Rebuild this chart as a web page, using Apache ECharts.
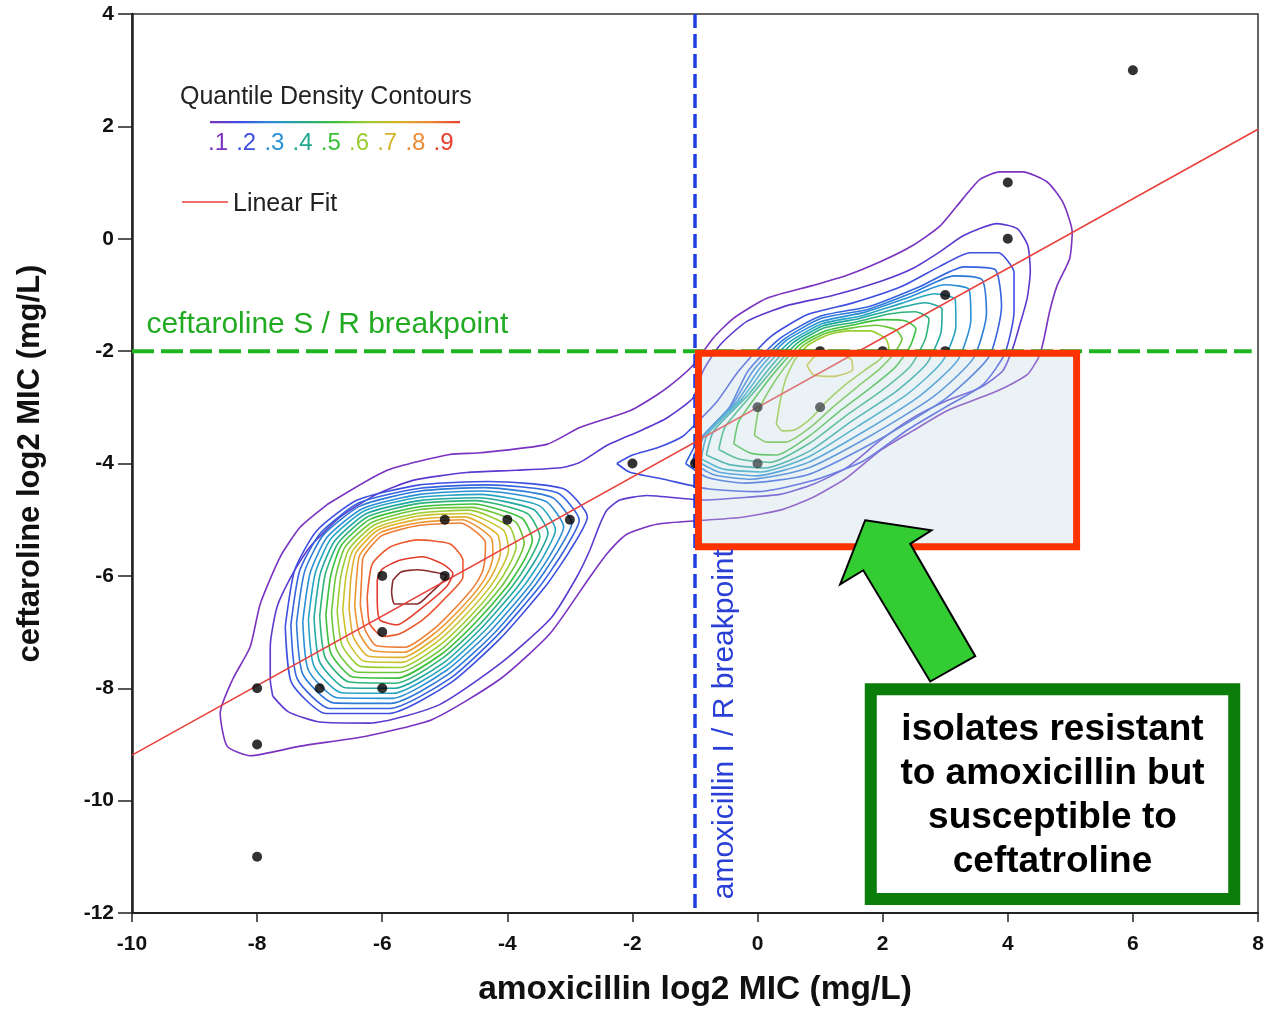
<!DOCTYPE html>
<html><head><meta charset="utf-8">
<script src="https://cdn.jsdelivr.net/npm/echarts@6/dist/echarts.min.js"></script>
<style>html,body{margin:0;padding:0;background:#fff}#c{width:1268px;height:1012px}</style>
</head><body><div id="c"></div>
<script>
// ---------- axes ----------
const xMin = -10, xMax = 8, xStep = 2;
const yMin = -12, yMax = 4, yStep = 2;
const xTitle = 'amoxicillin log2 MIC (mg/L)';
const yTitle = 'ceftaroline log2 MIC (mg/L)';

// ---------- isolates (black dots) ----------
const isolateX = [-8,-8,-8,-7,-6,-6,-6,-5,-5,-4,-3,-2,-1,0,0,1,1,2,3,3,4,4,6];
const isolateY = [-8,-9,-11,-8,-6,-7,-8,-5,-6,-5,-5,-4,-4,-3,-4,-3,-2,-2,-2,-1,0,1,3];

// ---------- linear fit ----------
const fitX = [-10, 8];
const fitY = [-9.19, 1.95];

// ---------- breakpoints ----------
const ceftBreakpoint = -2;
const amoxBreakpoint = -1;
const ceftLabel = 'ceftaroline S / R breakpoint';
const amoxLabel = 'amoxicillin I / R breakpoint';
const ceftLabelPos = [-9.77, -1.53];
const amoxLabelPos = [-0.53, -8.64];

// ---------- contour level colours (.05 ... .95) ----------
const levelColors = ['#7a32c0','#5c3ad0','#3e4fe0','#3563e0','#2e7ad8','#2b8fd6','#27a4c4','#22a8a0','#2eb47a','#3cc03c',
                     '#6cc63a','#9acd32','#c8c52e','#e0b02e','#ee9632','#ee7c34','#ec5a30','#e23c2c','#8a2c2c'];
const legendLabels = ['.1','.2','.3','.4','.5','.6','.7','.8','.9'];
const legendColors = ['#7a32c0','#3e4fe0','#2b8fd6','#22a88c','#3cc03c','#9acd32','#d4b42c','#ee8a34','#e8402c'];

// ---------- contours (data coordinates) ----------
const outerContour1 = [[-6.88,-4.73],[-5.92,-4.12],[-4.92,-3.84],[-4.44,-3.81],[-3.37,-3.66],[-2.84,-3.36],[-2.04,-3.06],[-1.61,-2.78],[-1.35,-2.57],[-1.03,-2.25],[-0.71,-1.77],[-0.39,-1.42],[0.15,-1.06],[0.89,-0.83],[1.43,-0.65],[1.96,-0.41],[2.48,-0.12],[2.92,0.23],[3.28,0.71],[3.56,1.06],[3.87,1.19],[4.24,1.19],[4.63,1.01],[4.88,0.65],[5.03,0.12],[4.99,-0.35],[4.79,-0.83],[4.67,-1.29],[4.59,-1.72],[4.51,-2.07],[4.31,-2.42],[3.83,-2.71],[3.03,-3.06],[2.48,-3.42],[1.96,-3.77],[1.43,-4.25],[0.89,-4.60],[0.36,-4.83],[-0.28,-4.96],[-0.87,-5.01],[-1.61,-5.08],[-2.09,-5.26],[-2.41,-5.61],[-2.68,-6.02],[-3.32,-7.03],[-4.12,-7.84],[-5.19,-8.55],[-6.24,-8.85],[-7.31,-9.03],[-8.11,-9.20],[-8.48,-9.03],[-8.59,-8.44],[-8.39,-7.84],[-8.11,-7.26],[-7.95,-6.50],[-7.63,-5.66],[-7.31,-5.13]];
const outerContour2 = [[-7.75,-8.14],[-7.79,-7.84],[-7.79,-7.26],[-7.68,-6.55],[-7.43,-5.96],[-7.16,-5.49],[-6.68,-4.96],[-6.09,-4.55],[-5.51,-4.30],[-4.65,-4.16],[-3.85,-4.12],[-3.11,-4.07],[-2.84,-3.98],[-2.41,-3.68],[-1.88,-3.42],[-1.45,-3.19],[-1.03,-2.83],[-0.87,-2.35],[-0.60,-1.89],[-0.17,-1.47],[0.47,-1.19],[1.20,-1.01],[1.96,-0.76],[2.48,-0.53],[2.92,-0.23],[3.28,0.05],[3.83,0.27],[4.15,0.18],[4.32,-0.12],[4.36,-0.58],[4.31,-1.06],[4.19,-1.54],[4.08,-1.95],[3.92,-2.35],[3.56,-2.65],[3.03,-2.88],[2.48,-3.19],[1.96,-3.59],[1.43,-4.07],[0.89,-4.37],[0.36,-4.55],[-0.17,-4.60],[-0.87,-4.65],[-1.77,-4.57],[-2.20,-4.65],[-2.41,-4.83],[-2.52,-5.08],[-2.68,-5.54],[-2.89,-6.02],[-3.3,-6.75],[-4.1,-7.55],[-5.1,-8.3],[-6.2,-8.62],[-7.0,-8.6],[-7.5,-8.42]];

const leftRingLevels = [3,4,5,6,7,8,9,10,11,12,13,14,15,16,17,18,19];
const leftRings = [
 [[-7.55,-6.9],[-7.4,-5.9],[-7.05,-5.2],[-6.4,-4.65],[-5.4,-4.38],[-4.3,-4.32],[-3.1,-4.45],[-2.72,-4.95],[-3.0,-5.55],[-3.4,-6.2],[-4.1,-7.1],[-4.9,-7.9],[-5.9,-8.45],[-6.9,-8.45],[-7.45,-7.9]],
 [[-7.46,-6.87],[-7.32,-5.91],[-6.99,-5.24],[-6.37,-4.70],[-5.4,-4.44],[-4.33,-4.38],[-3.20,-4.52],[-2.85,-5.01],[-3.11,-5.58],[-3.49,-6.2],[-4.16,-7.06],[-4.92,-7.83],[-5.88,-8.36],[-6.84,-8.36],[-7.36,-7.83]],
 [[-7.37,-6.84],[-7.24,-5.92],[-6.94,-5.27],[-6.34,-4.75],[-5.4,-4.49],[-4.37,-4.43],[-3.29,-4.60],[-2.97,-5.07],[-3.22,-5.61],[-3.58,-6.2],[-4.21,-7.02],[-4.94,-7.75],[-5.86,-8.27],[-6.78,-8.26],[-7.27,-7.75]],
 [[-7.27,-6.81],[-7.15,-5.94],[-6.88,-5.31],[-6.31,-4.80],[-5.4,-4.55],[-4.40,-4.49],[-3.39,-4.67],[-3.10,-5.13],[-3.32,-5.64],[-3.66,-6.2],[-4.27,-6.98],[-4.97,-7.68],[-5.84,-8.18],[-6.72,-8.17],[-7.18,-7.68]],
 [[-7.18,-6.78],[-7.07,-5.95],[-6.82,-5.34],[-6.28,-4.84],[-5.4,-4.60],[-4.44,-4.55],[-3.49,-4.75],[-3.23,-5.18],[-3.43,-5.67],[-3.75,-6.2],[-4.33,-6.94],[-4.99,-7.61],[-5.82,-8.09],[-6.65,-8.08],[-7.09,-7.61]],
 [[-7.09,-6.75],[-6.99,-5.96],[-6.76,-5.38],[-6.25,-4.89],[-5.4,-4.66],[-4.47,-4.61],[-3.58,-4.82],[-3.35,-5.24],[-3.54,-5.70],[-3.84,-6.2],[-4.39,-6.90],[-5.01,-7.54],[-5.80,-8.00],[-6.59,-7.99],[-7.00,-7.53]],
 [[-7.00,-6.72],[-6.91,-5.97],[-6.70,-5.41],[-6.22,-4.94],[-5.4,-4.71],[-4.51,-4.66],[-3.68,-4.89],[-3.48,-5.30],[-3.65,-5.73],[-3.93,-6.2],[-4.44,-6.86],[-5.03,-7.46],[-5.78,-7.91],[-6.53,-7.89],[-6.91,-7.46]],
 [[-6.90,-6.69],[-6.82,-5.98],[-6.65,-5.45],[-6.19,-4.99],[-5.4,-4.77],[-4.54,-4.72],[-3.77,-4.97],[-3.60,-5.36],[-3.75,-5.76],[-4.01,-6.2],[-4.50,-6.82],[-5.05,-7.39],[-5.76,-7.82],[-6.47,-7.80],[-6.82,-7.38]],
 [[-6.81,-6.66],[-6.74,-5.99],[-6.59,-5.48],[-6.15,-5.04],[-5.4,-4.82],[-4.58,-4.78],[-3.87,-5.04],[-3.73,-5.42],[-3.86,-5.78],[-4.10,-6.2],[-4.56,-6.78],[-5.07,-7.32],[-5.73,-7.72],[-6.41,-7.71],[-6.73,-7.31]],
 [[-6.72,-6.63],[-6.66,-6.00],[-6.53,-5.52],[-6.12,-5.09],[-5.4,-4.88],[-4.61,-4.83],[-3.97,-5.12],[-3.86,-5.48],[-3.97,-5.81],[-4.19,-6.2],[-4.61,-6.74],[-5.09,-7.24],[-5.71,-7.63],[-6.35,-7.61],[-6.64,-7.24]],
 [[-6.63,-6.60],[-6.58,-6.02],[-6.47,-5.55],[-6.09,-5.14],[-5.4,-4.93],[-4.65,-4.89],[-4.06,-5.19],[-3.98,-5.54],[-4.08,-5.84],[-4.28,-6.2],[-4.67,-6.70],[-5.12,-7.17],[-5.69,-7.54],[-6.29,-7.52],[-6.55,-7.16]],
 [[-6.53,-6.57],[-6.50,-6.03],[-6.42,-5.59],[-6.06,-5.18],[-5.4,-4.99],[-4.68,-4.95],[-4.16,-5.26],[-4.11,-5.59],[-4.19,-5.87],[-4.37,-6.2],[-4.73,-6.66],[-5.14,-7.10],[-5.67,-7.45],[-6.22,-7.43],[-6.46,-7.09]],
 [[-6.44,-6.54],[-6.41,-6.04],[-6.36,-5.63],[-6.03,-5.23],[-5.4,-5.05],[-4.72,-5.00],[-4.25,-5.34],[-4.23,-5.65],[-4.29,-5.90],[-4.45,-6.2],[-4.78,-6.62],[-5.16,-7.02],[-5.65,-7.36],[-6.16,-7.33],[-6.37,-7.01]],
 [[-6.35,-6.51],[-6.33,-6.05],[-6.3,-5.66],[-6.0,-5.28],[-5.4,-5.10],[-4.75,-5.06],[-4.35,-5.41],[-4.36,-5.71],[-4.4,-5.93],[-4.54,-6.2],[-4.84,-6.58],[-5.18,-6.95],[-5.63,-7.27],[-6.1,-7.24],[-6.28,-6.94]],
 [[-6.24,-6.37],[-6.16,-5.79],[-5.88,-5.49],[-5.44,-5.36],[-4.92,-5.43],[-4.71,-5.72],[-4.71,-6.02],[-4.97,-6.37],[-5.35,-6.78],[-5.72,-7.03],[-5.99,-7.08],[-6.2,-6.85]],
 [[-6.08,-6.07],[-6.0,-5.88],[-5.72,-5.72],[-5.35,-5.66],[-5.03,-5.79],[-4.87,-5.96],[-4.97,-6.19],[-5.40,-6.60],[-5.76,-6.87],[-6.04,-6.78],[-6.08,-6.37]],
 [[-5.83,-6.08],[-5.70,-5.93],[-5.44,-5.89],[-5.19,-5.93],[-4.97,-6.0],[-5.24,-6.32],[-5.44,-6.5],[-5.80,-6.5],[-5.85,-6.28]]
];

const rightRingLevels = [3,4,5,6,7,8,9,10,11,12,13];
const rightRings = [
 [[-2.25,-4.0],[-2.0,-3.85],[-1.6,-3.72],[-1.2,-3.52],[-0.95,-3.25],[-0.65,-2.9],[-0.3,-2.35],[0.2,-1.75],[0.8,-1.35],[1.5,-1.15],[2.3,-0.85],[2.9,-0.5],[3.4,-0.25],[3.85,-0.25],[4.1,-0.6],[4.1,-1.3],[3.95,-2.05],[3.6,-2.6],[3.0,-3.0],[2.4,-3.4],[1.7,-3.95],[0.9,-4.3],[0.0,-4.5],[-0.8,-4.45],[-1.5,-4.28],[-2.05,-4.15]],
 [[-1.15,-4.0],[-0.95,-3.6],[-0.45,-3.0],[-0.15,-2.35],[0.35,-1.78],[1.0,-1.38],[1.8,-1.2],[2.6,-0.85],[3.3,-0.5],[3.8,-0.55],[3.9,-1.2],[3.7,-2.1],[3.0,-2.85],[1.9,-3.6],[0.8,-4.2],[-0.2,-4.35],[-0.8,-4.25]],
 [[-1.05,-3.98],[-0.9,-3.55],[-0.4,-2.95],[-0.06,-2.33],[0.41,-1.80],[1.01,-1.42],[1.76,-1.26],[2.50,-0.95],[3.14,-0.66],[3.59,-0.73],[3.66,-1.32],[3.45,-2.13],[2.80,-2.82],[1.80,-3.51],[0.81,-4.08],[-0.1,-4.28],[-0.7,-4.2]],
 [[-0.98,-3.95],[-0.85,-3.5],[-0.33,-2.9],[0.04,-2.30],[0.46,-1.81],[1.03,-1.47],[1.71,-1.31],[2.40,-1.05],[2.99,-0.82],[3.38,-0.90],[3.41,-1.44],[3.20,-2.16],[2.60,-2.79],[1.70,-3.43],[0.81,-3.98],[-0.02,-4.22],[-0.62,-4.15]],
 [[-0.9,-3.92],[-0.8,-3.48],[-0.25,-2.85],[0.13,-2.28],[0.52,-1.83],[1.04,-1.51],[1.67,-1.37],[2.30,-1.15],[2.83,-0.98],[3.16,-1.08],[3.17,-1.56],[2.95,-2.19],[2.40,-2.76],[1.60,-3.34],[0.82,-3.88],[0.05,-4.15],[-0.55,-4.1]],
 [[-0.82,-3.85],[-0.7,-3.42],[-0.15,-2.78],[0.23,-2.25],[0.58,-1.84],[1.05,-1.55],[1.63,-1.42],[2.20,-1.25],[2.68,-1.14],[2.95,-1.25],[2.93,-1.68],[2.70,-2.23],[2.20,-2.73],[1.50,-3.25],[0.83,-3.78],[0.12,-4.08],[-0.45,-4.02]],
 [[-0.62,-3.75],[-0.52,-3.35],[-0.05,-2.72],[0.32,-2.23],[0.63,-1.86],[1.06,-1.59],[1.58,-1.48],[2.10,-1.34],[2.52,-1.30],[2.74,-1.43],[2.68,-1.79],[2.45,-2.26],[2.00,-2.69],[1.40,-3.16],[0.83,-3.64],[0.2,-3.98],[-0.3,-3.92]],
 [[-0.38,-3.65],[-0.3,-3.25],[0.08,-2.65],[0.41,-2.20],[0.69,-1.87],[1.08,-1.64],[1.54,-1.53],[2.00,-1.44],[2.36,-1.46],[2.53,-1.60],[2.44,-1.91],[2.20,-2.29],[1.80,-2.66],[1.30,-3.08],[0.84,-3.5],[0.3,-3.85],[-0.1,-3.82]],
 [[-0.05,-3.5],[0.02,-3.05],[0.25,-2.58],[0.51,-2.18],[0.74,-1.89],[1.09,-1.68],[1.49,-1.59],[1.90,-1.54],[2.21,-1.62],[2.31,-1.78],[2.19,-2.03],[1.95,-2.32],[1.60,-2.63],[1.20,-3.0],[0.84,-3.36],[0.45,-3.62],[0.15,-3.62]],
 [[0.3,-3.3],[0.36,-2.9],[0.45,-2.5],[0.6,-2.15],[0.8,-1.9],[1.1,-1.72],[1.45,-1.64],[1.8,-1.64],[2.05,-1.78],[2.1,-1.95],[1.95,-2.15],[1.7,-2.35],[1.4,-2.6],[1.1,-2.9],[0.85,-3.2],[0.6,-3.4],[0.4,-3.42]],
 [[0.79,-2.25],[0.95,-2.06],[1.2,-2.02],[1.5,-2.15],[1.52,-2.33],[1.2,-2.45],[0.89,-2.42]]
];

// ---------- annotations (data coordinates) ----------
const highlightBox = [-0.945, -2.04, 5.10, -5.48];
const arrowX = [1.72, 2.78, 2.44, 3.48, 2.76, 1.69, 1.32];
const arrowY = [-5.01, -5.19, -5.43, -7.43, -7.88, -5.90, -6.15];
const noteBox = [1.81, -8.02, 7.62, -11.75];
const noteLines = ['isolates resistant', 'to amoxicillin but', 'susceptible to', 'ceftatroline'];

const FONT = '"Liberation Sans", Arial, Helvetica, sans-serif';

// ---------- build series ----------
const series = [];
function addContour(path, level) {
  series.push({
    type: 'line', data: path.concat([path[0]]), symbol: 'none', showSymbol: false,
    smooth: 0.2, silent: true, z: 2, animation: false,
    lineStyle: { width: 1.6, color: levelColors[level - 1] }
  });
}
addContour(outerContour1, 1);
addContour(outerContour2, 2);
leftRings.forEach((r, i) => addContour(r, leftRingLevels[i]));
rightRings.forEach((r, i) => addContour(r, rightRingLevels[i]));

// breakpoint dashed lines
series.push({ type: 'line', data: [[xMin, ceftBreakpoint], [7.9, ceftBreakpoint]], symbol: 'none', silent: true, z: 3,
  lineStyle: { color: '#1fb41f', width: 4, type: [22, 7] } });
series.push({ type: 'line', data: [[amoxBreakpoint, yMax], [amoxBreakpoint, yMin]], symbol: 'none', silent: true, z: 3,
  lineStyle: { color: '#1f3ee0', width: 3.5, type: [14, 6] } });

// linear fit
series.push({ type: 'line', data: fitX.map((x, i) => [x, fitY[i]]), symbol: 'none', silent: true, z: 3,
  lineStyle: { color: '#e8413c', width: 1.6 } });

// isolates
series.push({ type: 'scatter', data: isolateX.map((x, i) => [x, isolateY[i]]), symbolSize: 10, z: 4,
  itemStyle: { color: '#000' }, silent: true });

function rectFrom(api, b) {
  const a = api.coord([b[0], b[1]]), c = api.coord([b[2], b[3]]);
  return { x: Math.min(a[0], c[0]), y: Math.min(a[1], c[1]), width: Math.abs(c[0] - a[0]), height: Math.abs(c[1] - a[1]) };
}
// highlight box overlay (semi-transparent) + border
series.push({ type: 'custom', data: [highlightBox], z: 5, silent: true, encode: { x: [0, 2], y: [1, 3] },
  renderItem: (p, api) => ({ type: 'rect', shape: rectFrom(api, highlightBox),
    style: { fill: 'rgba(195,218,225,0.34)', stroke: null } }) });
series.push({ type: 'custom', data: [highlightBox], z: 6, silent: true, encode: { x: [0, 2], y: [1, 3] },
  renderItem: (p, api) => ({ type: 'rect', shape: rectFrom(api, highlightBox),
    style: { fill: 'none', stroke: '#ff3300', lineWidth: 7 } }) });

// arrow
series.push({ type: 'custom', data: [[arrowX[0], arrowY[0]]], z: 7, silent: true,
  renderItem: (p, api) => ({ type: 'polygon',
    shape: { points: arrowX.map((x, i) => api.coord([x, arrowY[i]])) },
    style: { fill: '#33cc33', stroke: '#000', lineWidth: 2, lineJoin: 'miter' } }) });

// note box with text
series.push({ type: 'custom', data: [noteBox], z: 8, silent: true, encode: { x: [0, 2], y: [1, 3] },
  renderItem: (p, api) => {
    const r = rectFrom(api, noteBox);
    return { type: 'group', children: [
      { type: 'rect', shape: r, style: { fill: '#fff', stroke: '#0a7d0a', lineWidth: 12 } },
      { type: 'text', x: r.x + r.width / 2, y: r.y + r.height / 2 + 2,
        style: { text: noteLines.join('\n'), fill: '#000', font: 'bold 37px ' + FONT, align: 'center', verticalAlign: 'middle', lineHeight: 44 } }
    ] };
  } });

// breakpoint labels
series.push({ type: 'custom', data: [ceftLabelPos], z: 9, silent: true,
  renderItem: (p, api) => {
    const q = api.coord(ceftLabelPos);
    return { type: 'text', x: q[0], y: q[1], style: { text: ceftLabel, fill: '#22aa22', font: '30px ' + FONT, align: 'left', verticalAlign: 'middle' } };
  } });
series.push({ type: 'custom', data: [amoxLabelPos], z: 9, silent: true,
  renderItem: (p, api) => {
    const q = api.coord(amoxLabelPos);
    return { type: 'text', x: q[0], y: q[1], rotation: Math.PI / 2,
      style: { text: amoxLabel, fill: '#2a3fd6', font: '30px ' + FONT, align: 'center', verticalAlign: 'middle' } };
  } });

// ---------- legend (graphic) ----------
const legendX0 = 210, legendW = 250, legendStep = 28.2;
const graphic = [
  { type: 'text', left: 180, top: 85, style: { text: 'Quantile Density Contours', fill: '#222', font: '25px ' + FONT } },
  { type: 'rect', shape: { x: legendX0, y: 121, width: legendW, height: 2.2 },
    style: { fill: new echarts.graphic.LinearGradient(0, 0, 1, 0, legendColors.map((c, i) => ({ offset: i / (legendColors.length - 1), color: c }))) } },
  ...legendLabels.map((t, i) => ({ type: 'text', x: legendX0 + 8 + i * legendStep, y: 143,
    style: { text: t, fill: legendColors[i], font: '24px ' + FONT, align: 'center', verticalAlign: 'middle' } })),
  { type: 'line', shape: { x1: 182, y1: 202, x2: 228, y2: 202 }, style: { stroke: '#e8413c', lineWidth: 1.6 } },
  { type: 'text', x: 233, y: 204, style: { text: 'Linear Fit', fill: '#222', font: '25px ' + FONT, verticalAlign: 'middle' } }
];

const chart = echarts.init(document.getElementById('c'), null, { renderer: 'canvas' });
chart.setOption({
  animation: false,
  backgroundColor: '#fff',
  grid: { left: 132, right: 10, top: 14, bottom: 94, show: true, borderColor: '#333', borderWidth: 1.5, backgroundColor: 'transparent' },
  xAxis: {
    type: 'value', min: xMin, max: xMax, interval: xStep,
    name: xTitle, nameLocation: 'middle', nameGap: 60,
    nameTextStyle: { fontSize: 33.5, fontWeight: 'bold', color: '#111', fontFamily: FONT },
    axisLine: { onZero: false, lineStyle: { color: '#222', width: 2 } },
    axisTick: { show: true, length: 9, lineStyle: { color: '#222', width: 1.5 } },
    axisLabel: { fontSize: 21, fontWeight: 'bold', color: '#111', margin: 21, fontFamily: FONT },
    splitLine: { show: false }
  },
  yAxis: {
    type: 'value', min: yMin, max: yMax, interval: yStep,
    name: yTitle, nameLocation: 'middle', nameGap: 86, nameRotate: 90,
    nameTextStyle: { fontSize: 31, fontWeight: 'bold', color: '#111', fontFamily: FONT },
    axisLine: { onZero: false, lineStyle: { color: '#222', width: 2.5 } },
    axisTick: { show: true, length: 14, lineStyle: { color: '#222', width: 1.5 } },
    axisLabel: { fontSize: 21, fontWeight: 'bold', color: '#111', margin: 18, fontFamily: FONT },
    splitLine: { show: false }
  },
  series: series,
  graphic: graphic
});
</script>
</body></html>
